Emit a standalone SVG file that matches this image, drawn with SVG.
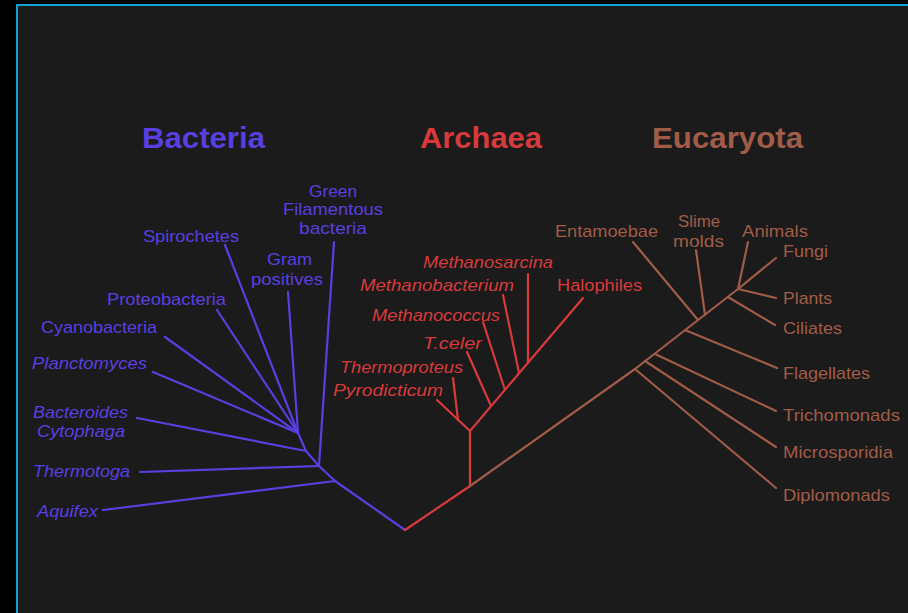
<svg xmlns="http://www.w3.org/2000/svg" width="908" height="613" viewBox="0 0 908 613">
<style>
  .bg{fill:#000}
  .frame{fill:#1b1b1b;stroke:#0fa0d6;stroke-width:2}
  .ln{fill:none;stroke-width:2.2;stroke-linecap:round;stroke-linejoin:round}
  .b{stroke:#5a3fe0}
  .a{stroke:#d83a3c}
  .e{stroke:#a05c48}
  text{font-family:"Liberation Sans","DejaVu Sans",sans-serif;font-size:17px}
  .tb{fill:#5a3fe0}
  .ta{fill:#d83a3c}
  .te{fill:#a05c48}
  .it{font-style:italic}
  .title{font-size:29px;font-weight:bold}
</style>
<rect class="bg" x="0" y="0" width="908" height="613"/>
<rect class="frame" x="17" y="5" width="1000" height="700"/>

<g id="titles">
  <text id="t-bacteria" class="title tb" x="142" y="148" textLength="123" lengthAdjust="spacingAndGlyphs">Bacteria</text>
  <text id="t-archaea" class="title ta" x="420" y="148" textLength="122" lengthAdjust="spacingAndGlyphs">Archaea</text>
  <text id="t-eucaryota" class="title te" x="652" y="148" textLength="151" lengthAdjust="spacingAndGlyphs">Eucaryota</text>
</g>

<g id="connectors">
  <g id="bacteria-lines" class="ln b">
    <polyline points="405,530 335,481 319,466 306,451 298,433"/>
    <line x1="335" y1="481" x2="103" y2="510"/>
    <line x1="319" y1="466" x2="140" y2="472"/>
    <line x1="319" y1="466" x2="334" y2="242"/>
    <line x1="306" y1="451" x2="137" y2="418"/>
    <line x1="298" y1="433" x2="153" y2="372"/>
    <line x1="298" y1="433" x2="165" y2="337"/>
    <line x1="298" y1="433" x2="217" y2="310"/>
    <line x1="298" y1="433" x2="225" y2="245"/>
    <line x1="298" y1="433" x2="288" y2="292"/>
  </g>
  <g id="archaea-lines" class="ln a">
    <polyline points="405,530 470,486 470,431"/>
    <line x1="470" y1="431" x2="437" y2="400"/>
    <line x1="458" y1="420" x2="453" y2="378"/>
    <line x1="470" y1="431" x2="583" y2="298"/>
    <line x1="491" y1="406" x2="467" y2="352"/>
    <line x1="505" y1="390" x2="483" y2="322"/>
    <line x1="519" y1="373" x2="503" y2="295"/>
    <line x1="528" y1="363" x2="528" y2="274"/>
  </g>
  <g id="eucaryota-lines" class="ln e">
    <polyline points="470,486 635,369 738,289"/>
    <line x1="635" y1="369" x2="776" y2="488"/>
    <line x1="645" y1="361" x2="776" y2="447"/>
    <line x1="655" y1="354" x2="776" y2="411"/>
    <line x1="685" y1="330" x2="777" y2="368"/>
    <line x1="728" y1="297" x2="775" y2="325"/>
    <line x1="698" y1="320" x2="633" y2="242"/>
    <line x1="705" y1="315" x2="696" y2="250"/>
    <line x1="738" y1="289" x2="748" y2="242"/>
    <line x1="738" y1="289" x2="776" y2="258"/>
    <line x1="738" y1="289" x2="776" y2="298"/>
  </g>
</g>

<g id="n-green-filamentous" class="tb">
  <text x="309" y="197" textLength="48" lengthAdjust="spacingAndGlyphs">Green</text>
  <text x="283" y="215" textLength="100" lengthAdjust="spacingAndGlyphs">Filamentous</text>
  <text x="299" y="234" textLength="68" lengthAdjust="spacingAndGlyphs">bacteria</text>
</g>
<g id="n-spirochetes" class="tb"><text x="143" y="242" textLength="96" lengthAdjust="spacingAndGlyphs">Spirochetes</text></g>
<g id="n-gram-positives" class="tb">
  <text x="267" y="265" textLength="45" lengthAdjust="spacingAndGlyphs">Gram</text>
  <text x="251" y="285" textLength="72" lengthAdjust="spacingAndGlyphs">positives</text>
</g>
<g id="n-proteobacteria" class="tb"><text x="107" y="305" textLength="119" lengthAdjust="spacingAndGlyphs">Proteobacteria</text></g>
<g id="n-cyanobacteria" class="tb"><text x="41" y="333" textLength="116" lengthAdjust="spacingAndGlyphs">Cyanobacteria</text></g>
<g id="n-planctomyces" class="tb it"><text x="32" y="369" textLength="115" lengthAdjust="spacingAndGlyphs">Planctomyces</text></g>
<g id="n-bacteroides" class="tb it">
  <text x="33" y="418" textLength="95" lengthAdjust="spacingAndGlyphs">Bacteroides</text>
  <text x="37" y="437" textLength="88" lengthAdjust="spacingAndGlyphs">Cytophaga</text>
</g>
<g id="n-thermotoga" class="tb it"><text x="33" y="477" textLength="97" lengthAdjust="spacingAndGlyphs">Thermotoga</text></g>
<g id="n-aquifex" class="tb it"><text x="37" y="517" textLength="61" lengthAdjust="spacingAndGlyphs">Aquifex</text></g>

<g id="n-methanosarcina" class="ta it"><text x="423" y="268" textLength="130" lengthAdjust="spacingAndGlyphs">Methanosarcina</text></g>
<g id="n-methanobacterium" class="ta it"><text x="360" y="291" textLength="154" lengthAdjust="spacingAndGlyphs">Methanobacterium</text></g>
<g id="n-methanococcus" class="ta it"><text x="372" y="321" textLength="128" lengthAdjust="spacingAndGlyphs">Methanococcus</text></g>
<g id="n-tceler" class="ta it"><text x="423" y="349" textLength="59" lengthAdjust="spacingAndGlyphs">T.celer</text></g>
<g id="n-thermoproteus" class="ta it"><text x="340" y="373" textLength="123" lengthAdjust="spacingAndGlyphs">Thermoproteus</text></g>
<g id="n-pyrodicticum" class="ta it"><text x="333" y="396" textLength="110" lengthAdjust="spacingAndGlyphs">Pyrodicticum</text></g>
<g id="n-halophiles" class="ta"><text x="557" y="291" textLength="85" lengthAdjust="spacingAndGlyphs">Halophiles</text></g>

<g id="n-entamoebae" class="te"><text x="555" y="237" textLength="103" lengthAdjust="spacingAndGlyphs">Entamoebae</text></g>
<g id="n-slime-molds" class="te">
  <text x="678" y="227" textLength="42" lengthAdjust="spacingAndGlyphs">Slime</text>
  <text x="673" y="247" textLength="51" lengthAdjust="spacingAndGlyphs">molds</text>
</g>
<g id="n-animals" class="te"><text x="742" y="237" textLength="66" lengthAdjust="spacingAndGlyphs">Animals</text></g>
<g id="n-fungi" class="te"><text x="783" y="257" textLength="45" lengthAdjust="spacingAndGlyphs">Fungi</text></g>
<g id="n-plants" class="te"><text x="783" y="304" textLength="49" lengthAdjust="spacingAndGlyphs">Plants</text></g>
<g id="n-ciliates" class="te"><text x="783" y="334" textLength="59" lengthAdjust="spacingAndGlyphs">Ciliates</text></g>
<g id="n-flagellates" class="te"><text x="783" y="379" textLength="87" lengthAdjust="spacingAndGlyphs">Flagellates</text></g>
<g id="n-trichomonads" class="te"><text x="783" y="421" textLength="117" lengthAdjust="spacingAndGlyphs">Trichomonads</text></g>
<g id="n-microsporidia" class="te"><text x="783" y="458" textLength="110" lengthAdjust="spacingAndGlyphs">Microsporidia</text></g>
<g id="n-diplomonads" class="te"><text x="783" y="501" textLength="107" lengthAdjust="spacingAndGlyphs">Diplomonads</text></g>
</svg>
